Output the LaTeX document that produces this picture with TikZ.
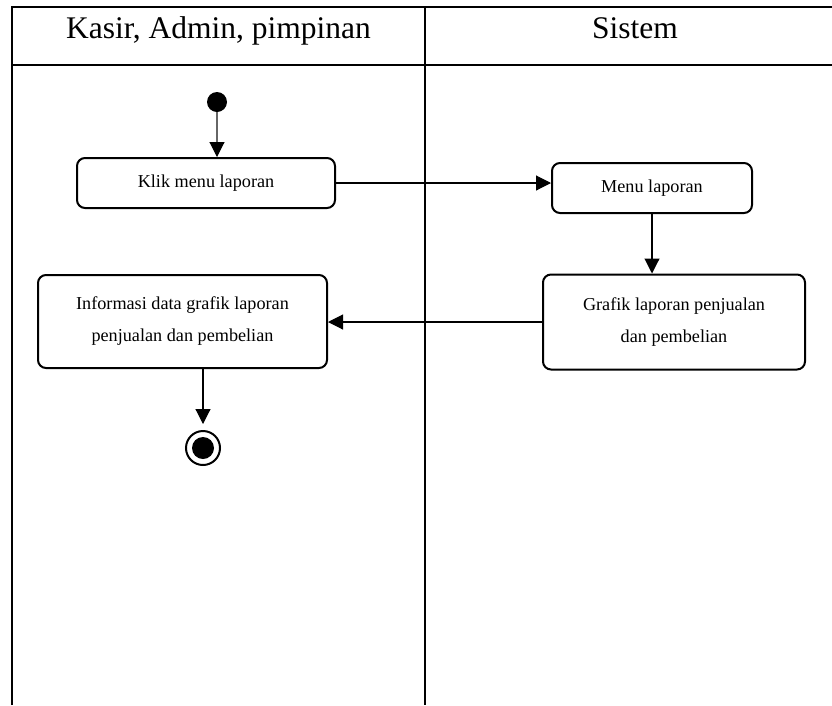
\documentclass[tikz,border=0pt]{standalone}
\usepackage{fontspec}
\setmainfont{Liberation Serif}
\usetikzlibrary{arrows.meta}
\begin{document}
\begin{tikzpicture}[x=1pt,y=-1pt,
  lane/.style={line width=2.8pt},
  act/.style={draw, line width=2pt, rounded corners=8pt, align=center,
    inner sep=0pt, font=\fontsize{18.2}{32}\selectfont},
  flow/.style={line width=1.1pt, -{Triangle[length=15pt,width=15pt,color=black]}},
  head/.style={font=\fontsize{31.5}{34}\selectfont, anchor=base}]
\useasboundingbox (0,0) rectangle (832,705);
% swimlane frame
\draw[lane] (12,705) -- (12,7) -- (832,7);
\draw[lane] (12,65) -- (832,65);
\draw[lane] (425,7) -- (425,705);
\node[head] (h1) at (218.5,38) {Kasir, Admin, pimpinan};
\node[head] (h2) at (635,38) {Sistem};
% activities
\node[circle, fill, inner sep=0pt, minimum size=20pt] (start) at (217,102) {};
\node[act, minimum width=258pt, minimum height=50pt] (klik) at (206,183) {Klik menu laporan};
\node[act, minimum width=200pt, minimum height=50pt] (menu) at (652,188) {Menu laporan};
\node[act, minimum width=262pt, minimum height=95pt] (grafik) at (674,322)
  {Grafik laporan penjualan\\dan pembelian};
\node[act, minimum width=289pt, minimum height=93pt] (info) at (182.5,321.5)
  {\raisebox{4pt}{\parbox{260pt}{\centering Informasi data grafik laporan\\penjualan dan pembelian}}};
\node[circle, draw, line width=2pt, inner sep=0pt, minimum size=34pt] (end) at (203,448) {};
\fill (end.center) circle[radius=11pt];
% control flow
\draw[flow, black!60] (start) -- (klik.north -| start);
\draw[flow] (klik.east) -- (menu.west |- klik.east);
\draw[flow] (menu.south) -- (grafik.north -| menu.south);
\draw[flow] (grafik.west) -- (info.east |- grafik.west);
\draw[flow, shorten >=6pt] (info.south -| end) -- (end.north);
\end{tikzpicture}
\end{document}
